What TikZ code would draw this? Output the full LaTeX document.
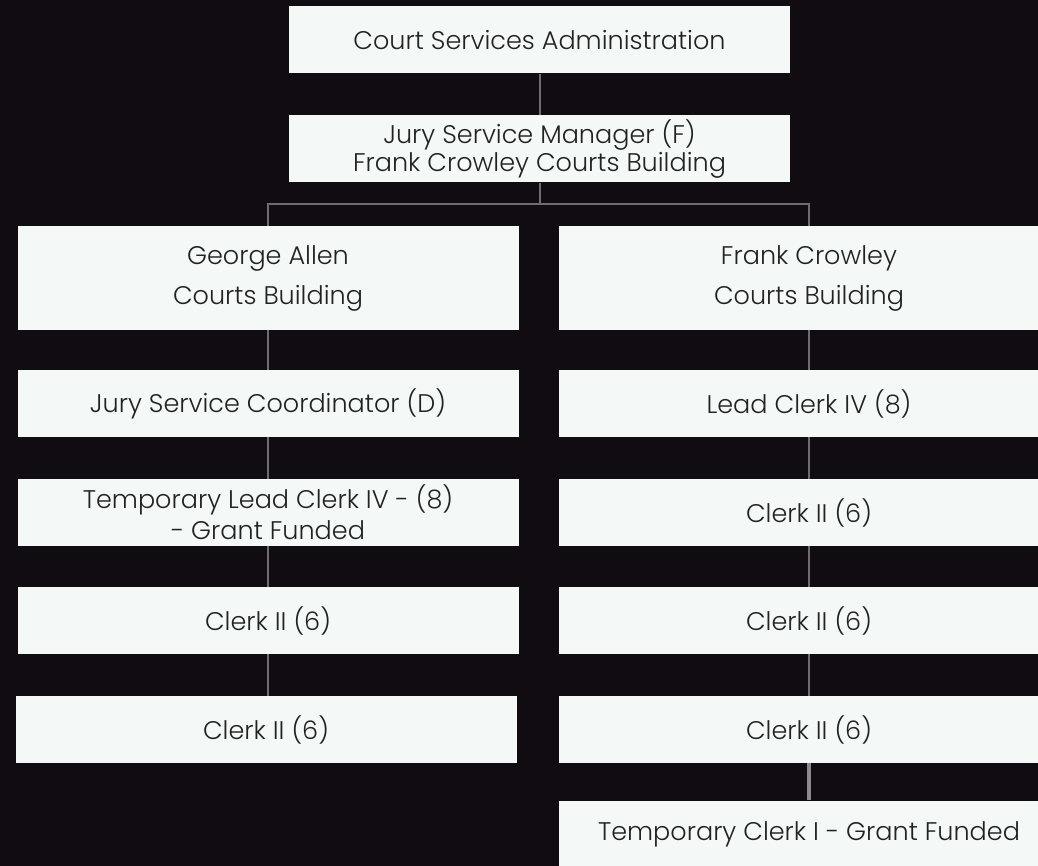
\documentclass[tikz,border=0pt]{standalone}
\usepackage{fontspec}
\setmainfont{Poppins}[UprightFont={* Light}]
\usepackage{tikz}

\definecolor{chartbg}{HTML}{110C11}
\definecolor{boxfill}{HTML}{F4F8F7}
\definecolor{boxtext}{HTML}{222222}
\definecolor{linkgray}{HTML}{6F6C6F}

\begin{document}
\begin{tikzpicture}[x=1pt, y=-1pt, every node/.style={rectangle, fill=boxfill, text=boxtext, align=center, inner sep=0pt, minimum width=501pt, minimum height=67pt, font=\fontsize{25.5}{31}\selectfont}, link/.style={draw=linkgray, line width=2pt}]
  \useasboundingbox (0,0) rectangle (1038,866);
  \fill [chartbg] (0,0) rectangle (1038,866);
  \clip (0,0) rectangle (1038,866);
  \node (0) at (539.5, 40) {Court Services Administration};
  \node (1) at (539.5, 149) {Jury Service Manager (F)\\[-3pt]Frank Crowley Courts Building};
  \node [minimum height=104pt] (2) at (268, 278) {George Allen\\[9pt]Courts Building};
  \node [minimum height=104pt] (3) at (809, 278) {Frank Crowley\\[9pt]Courts Building};
  \node (4) at (268, 403.5) {Jury Service Coordinator (D)};
  \node (5) at (809, 403.5) {Lead Clerk IV (8)};
  \node (6) at (268, 512.5) {Temporary Lead Clerk IV - (8)\\- Grant Funded};
  \node (7) at (809, 512.5) {Clerk II (6)};
  \node (8) at (268, 620.5) {Clerk II (6)};
  \node (9) at (809, 620.5) {Clerk II (6)};
  \node (10) at (266, 729.5) {Clerk II (6)};
  \node (11) at (809, 729.5) {Clerk II (6)};
  \node (12) at (809, 834) {Temporary Clerk I - Grant Funded};
  \coordinate (bar) at (539.5, 204);
  \draw [link] (0) -- (1);
  \draw [link] (1) -- (bar);
  \draw [link] (bar) -| (2);
  \draw [link] (bar) -| (3);
  \draw [link] (2) -- (4);
  \draw [link] (4) -- (6);
  \draw [link] (6) -- (8);
  \draw [link] (8.south) -- (8.south |- 10.north);
  \draw [link] (3) -- (5);
  \draw [link] (5) -- (7);
  \draw [link] (7) -- (9);
  \draw [link] (9) -- (11);
  \draw [draw=linkgray!80!white, line width=4pt] (11) -- (12);
\end{tikzpicture}
\end{document}
